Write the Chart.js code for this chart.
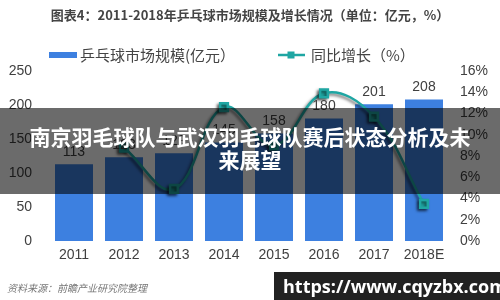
<!DOCTYPE html>
<html>
<head>
<meta charset="utf-8">
<script src="https://cdn.jsdelivr.net/npm/chart.js@4.4.0/dist/chart.umd.min.js"></script>
<style>
  html, body { margin: 0; padding: 0; background: #fff; }
  #wrap { position: relative; width: 500px; height: 300px; overflow: hidden; }
  #banner {
    position: absolute; left: 0; top: 108px; width: 500px; height: 86px;
    background: rgba(0, 0, 0, 0.58); color: #fff;
    font: bold 21px 'Noto Sans CJK SC', sans-serif; line-height: 23px;
    text-align: center; box-sizing: border-box; padding-top: 17px;
  }
  #source {
    position: absolute; left: 7px; top: 280px;
    font: italic 10px 'Noto Sans CJK SC', sans-serif; color: #777;
  }
  #site {
    position: absolute; left: 274px; top: 272px; width: 226px; height: 28px;
    background: #222; color: #fff; box-sizing: border-box; padding-left: 9px;
    font: bold 18px 'Open Sans', sans-serif; line-height: 28px;
  }
</style>
</head>
<body>
<div id="wrap">
  <canvas id="chart" width="500" height="300"></canvas>
  <div id="banner">南京羽毛球队与武汉羽毛球队赛后状态分析及未<br>来展望</div>
  <div id="source">资料来源：前瞻产业研究院整理</div>
  <div id="site">https://www.cqyzbx.com</div>
</div>
<script>
  // data
  const years = ['2011', '2012', '2013', '2014', '2015', '2016', '2017', '2018E'];
  const marketSize = [113, 123, 129, 145, 158, 180, 201, 208];
  const growth = [null, 8.8, 4.9, 12.6, 9.0, 13.9, 11.7, 3.5];
  const sizeTicks = [0, 50, 100, 150, 200, 250];
  const growthTicks = [0, 2, 4, 6, 8, 10, 12, 14, 16];

  const fontFamily = "'Liberation Sans', 'Noto Sans CJK SC', sans-serif";
  const cjkFont = "'Noto Sans CJK SC', sans-serif";
  const barColor = '#3d80e0';
  const lineColor = '#1fa6a3';

  // bar value labels
  const barLabels = {
    id: 'barLabels',
    afterDatasetsDraw(chart) {
      const ctx = chart.ctx;
      const meta = chart.getDatasetMeta(0);
      ctx.save();
      ctx.font = '14px ' + fontFamily;
      ctx.fillStyle = '#404040';
      ctx.textAlign = 'center';
      ctx.textBaseline = 'middle';
      meta.data.forEach((bar, i) => {
        ctx.fillText(marketSize[i], bar.x, bar.y - 12);
      });
      ctx.restore();
    }
  };

  // shadow under the growth line
  const lineShadow = {
    id: 'lineShadow',
    beforeDatasetDraw(chart, args) {
      if (args.index !== 1) return;
      const ctx = chart.ctx;
      ctx.save();
      ctx.shadowColor = 'rgba(0,0,0,0.55)';
      ctx.shadowBlur = 3;
      ctx.shadowOffsetX = -2;
      ctx.shadowOffsetY = 2;
    },
    afterDatasetDraw(chart, args) {
      if (args.index !== 1) return;
      chart.ctx.restore();
    }
  };

  // legend drawn like the original (bar swatch, line with square marker)
  const customLegend = {
    id: 'customLegend',
    afterDraw(chart) {
      const ctx = chart.ctx;
      const ds = chart.data.datasets;
      const y = 55;
      ctx.save();
      ctx.font = '15px ' + cjkFont;
      ctx.textBaseline = 'middle';
      // bars
      ctx.fillStyle = ds[0].backgroundColor;
      ctx.fillRect(49, y - 3, 28, 6);
      ctx.fillStyle = '#444';
      ctx.fillText(ds[0].label, 80, y);
      // line
      ctx.strokeStyle = ds[1].borderColor;
      ctx.lineWidth = 2.5;
      ctx.beginPath();
      ctx.moveTo(278, y);
      ctx.lineTo(305, y);
      ctx.stroke();
      ctx.fillStyle = ds[1].pointBackgroundColor;
      ctx.fillRect(287.5, y - 3.5, 7, 7);
      ctx.fillStyle = '#444';
      ctx.fillText(ds[1].label, 311, y);
      ctx.restore();
    }
  };

  const noGrid = { display: false, drawTicks: false };

  new Chart(document.getElementById('chart'), {
    data: {
      labels: years,
      datasets: [
        {
          type: 'bar',
          label: '乒乓球市场规模(亿元）',
          data: marketSize,
          backgroundColor: barColor,
          categoryPercentage: 0.8,
          barPercentage: 0.95,
          yAxisID: 'y',
          order: 1
        },
        {
          type: 'line',
          label: '同比增长（%）',
          data: growth,
          borderColor: lineColor,
          borderWidth: 2.5,
          tension: 0.4,
          pointStyle: 'rect',
          pointRadius: 5.5,
          pointBackgroundColor: lineColor,
          pointBorderColor: lineColor,
          yAxisID: 'y1',
          order: 0
        }
      ]
    },
    options: {
      responsive: false,
      animation: false,
      layout: { padding: 0 },
      plugins: {
        legend: { display: false },
        tooltip: { enabled: false },
        title: {
          display: true,
          text: '图表4：2011-2018年乒乓球市场规模及增长情况（单位：亿元，%）',
          color: '#444',
          font: { family: cjkFont, size: 13, weight: 'bold' },
          padding: { top: 7, bottom: 48.4 }
        }
      },
      scales: {
        x: {
          grid: noGrid,
          border: { display: false },
          ticks: { color: '#404040', font: { family: fontFamily, size: 14 }, padding: 6, maxRotation: 0 },
          afterFit(scale) { scale.height = 59; }
        },
        y: {
          position: 'left',
          min: 0,
          max: 250,
          grid: noGrid,
          border: { display: false },
          afterBuildTicks(scale) { scale.ticks = sizeTicks.map(v => ({ value: v })); },
          ticks: { color: '#404040', font: { family: fontFamily, size: 14 }, padding: 17 },
          afterFit(scale) { scale.width = 49; }
        },
        y1: {
          position: 'right',
          min: 0,
          max: 16,
          grid: noGrid,
          border: { display: false },
          afterBuildTicks(scale) { scale.ticks = growthTicks.map(v => ({ value: v })); },
          ticks: { color: '#404040', font: { family: fontFamily, size: 14 }, padding: 11, callback: v => v + '%' },
          afterFit(scale) { scale.width = 51; }
        }
      }
    },
    plugins: [barLabels, lineShadow, customLegend]
  });
</script>
</body>
</html>
